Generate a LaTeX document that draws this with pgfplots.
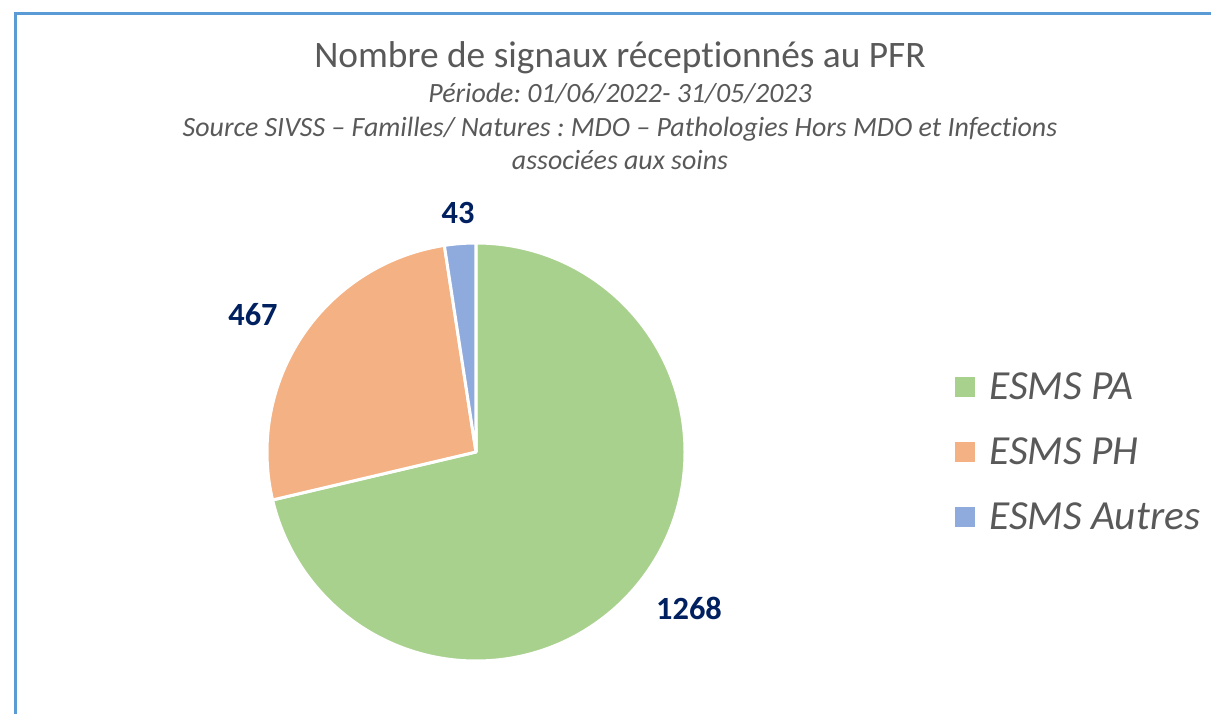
\documentclass[border=0pt]{standalone}
\usepackage{pgfplots}
\pgfplotsset{compat=1.18}
\usepackage{pgfplotstable}
\usepackage{fontspec}
\setmainfont{Carlito}[Ligatures=NoCommon]
\frenchspacing
\definecolor{pa}{HTML}{A9D18E}
\definecolor{ph}{HTML}{F4B183}
\definecolor{au}{HTML}{8FAADC}
\definecolor{tgray}{HTML}{595959}
\definecolor{lblue}{HTML}{002060}
\definecolor{frame}{HTML}{5B9BD5}
\pgfplotstableread[col sep=comma]{
name,value
ESMS PA,1268
ESMS PH,467
ESMS Autres,43
}\piedata
\begin{document}
\begin{tikzpicture}
\useasboundingbox (0,0) rectangle (1211bp,714bp);
\pgfplotstablegetelem{0}{value}\of\piedata \let\va\pgfplotsretval
\pgfplotstablegetelem{1}{value}\of\piedata \let\vb\pgfplotsretval
\pgfplotstablegetelem{2}{value}\of\piedata \let\vc\pgfplotsretval
\pgfmathsetmacro{\tot}{\va+\vb+\vc}
\pgfmathsetmacro{\fa}{\va/\tot}
\pgfmathsetmacro{\fb}{\vb/\tot}
\pgfmathsetmacro{\fc}{\vc/\tot}
\pgfmathsetmacro{\aA}{90-360*\fa}
\pgfmathsetmacro{\aB}{\aA-360*\fb}
\pgfmathsetmacro{\aC}{\aB-360*\fc}
\begin{axis}[
  x=1bp, y=1bp, xmin=0, xmax=1211, ymin=0, ymax=714,
  hide axis, clip=false,
  legend style={at={(axis cs:955,262)}, anchor=west, draw=none, fill=none,
    inner sep=0pt, font=\itshape\fontsize{41.5}{50}\selectfont, text=tgray,
    row sep=33bp, /tikz/every odd column/.append style={column sep=12bp}},
  legend cell align=left,
  legend image code/.code={\fill[#1, draw=none] (0bp,-10bp) rectangle (20bp,10bp);},
]
\addlegendimage{fill=pa}
\addlegendentry{ESMS PA}
\addlegendimage{fill=ph}
\addlegendentry{ESMS PH}
\addlegendimage{fill=au}
\addlegendentry{ESMS Autres}
\fill[pa, draw=white, line width=3bp, line join=round] (axis cs:476,262) -- ++(90:209bp) arc[start angle=90, end angle=\aA, radius=209bp] -- cycle;
\fill[ph, draw=white, line width=3bp, line join=round] (axis cs:476,262) -- ++(\aA:209bp) arc[start angle=\aA, end angle=\aB, radius=209bp] -- cycle;
\fill[au, draw=white, line width=3bp, line join=round] (axis cs:476,262) -- ++(\aB:209bp) arc[start angle=\aB, end angle=\aC, radius=209bp] -- cycle;
\node[font=\bfseries\fontsize{32.5}{39}\selectfont, text=lblue] at (axis cs:458,501) {\vc};
\node[font=\bfseries\fontsize{32.5}{39}\selectfont, text=lblue] at (axis cs:253,399) {\vb};
\node[font=\bfseries\fontsize{32.5}{39}\selectfont, text=lblue] at (axis cs:689,106) {\va};
\node[anchor=base, font=\fontsize{37.5}{45}\selectfont, text=tgray] at (axis cs:620,646) {Nombre de signaux réceptionnés au PFR};
\node[anchor=base, font=\itshape\fontsize{28}{34}\selectfont, text=tgray] at (axis cs:620,611) {Période: 01/06/2022- 31/05/2023};
\node[anchor=base, font=\itshape\fontsize{28}{34}\selectfont, text=tgray] at (axis cs:620,577) {Source SIVSS – Familles/ Natures : MDO – Pathologies Hors MDO et Infections};
\node[anchor=base, font=\itshape\fontsize{28}{34}\selectfont, text=tgray] at (axis cs:620,544) {associées aux soins};
\end{axis}
\draw[frame, line width=3bp] (15.5bp,-5bp) -- (15.5bp,700.5bp) -- (1220bp,700.5bp);
\end{tikzpicture}
\end{document}
